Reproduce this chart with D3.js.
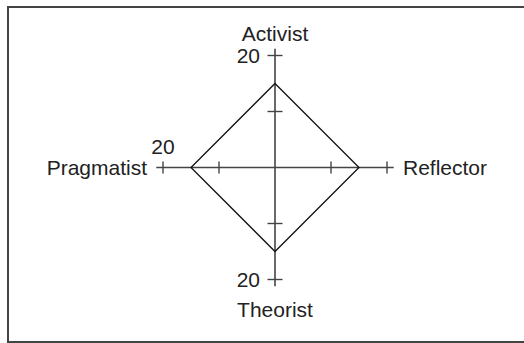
<!DOCTYPE html>
<html>
<head>
	<meta charset="utf-8">
	<script src="https://d3js.org/d3.v7.min.js"></script>
	<title>Learning styles</title>
	<style>
		body { margin: 0; background: #fff; }
		text { font-family: "Liberation Sans", Arial, sans-serif; font-size: 21px; fill: #222; }
	</style>
</head>
<body>
	<div id="chart"></div>

	<script type="text/javascript">
		// data (clockwise from the top)
		var axes = ["Activist", "Reflector", "Theorist", "Pragmatist"];
		var scores = [15, 15, 15, 15];
		var tickValues = [10, 20];
		var scaleLabel = "20";
		var labelledAxes = ["Activist", "Theorist", "Pragmatist"];
		var axisMax = 21.2;

		var width = 524, height = 343;
		var cx = 275, cy = 167.5;

		var svg = d3.select("#chart").append("svg")
			.attr("width", width)
			.attr("height", height);

		// frame
		svg.append("rect")
			.attr("x", 8).attr("y", 7)
			.attr("width", 540).attr("height", 335)
			.attr("fill", "none")
			.attr("stroke", "#444")
			.attr("stroke-width", 2);

		var r = d3.scaleLinear().domain([0, 20]).range([0, 112]);
		var step = 2 * Math.PI / axes.length;
		function ang(name) { return axes.indexOf(name) * step; }
		function px(a, v) { return Math.sin(a) * r(v); }
		function py(a, v) { return -Math.cos(a) * r(v); }
		function vertical(a) { return Math.abs(Math.sin(a)) < 0.5; }

		var g = svg.append("g").attr("transform", "translate(" + cx + "," + cy + ")");

		// axis lines
		g.selectAll(".axis")
			.data(axes).enter()
			.append("line")
			.attr("class", "axis")
			.attr("x1", 0).attr("y1", 0)
			.attr("x2", function(d) { return px(ang(d), axisMax); })
			.attr("y2", function(d) { return py(ang(d), axisMax); })
			.attr("stroke", "#444")
			.attr("stroke-width", 1.6);

		// ticks
		var tickData = [];
		axes.forEach(function(a) {
			tickValues.forEach(function(t) { tickData.push({ axis: a, value: t }); });
		});

		g.selectAll(".tick")
			.data(tickData).enter()
			.append("line")
			.attr("class", "tick")
			.attr("x1", function(d) { var a = ang(d.axis); return px(a, d.value) - (vertical(a) ? 7.5 : 0); })
			.attr("x2", function(d) { var a = ang(d.axis); return px(a, d.value) + (vertical(a) ? 7.5 : 0); })
			.attr("y1", function(d) { var a = ang(d.axis); return py(a, d.value) - (vertical(a) ? 0 : 6); })
			.attr("y2", function(d) { var a = ang(d.axis); return py(a, d.value) + (vertical(a) ? 0 : 6); })
			.attr("stroke", "#444")
			.attr("stroke-width", 1.4);

		// score polygon
		var radial = d3.lineRadial()
			.angle(function(d, i) { return i * step; })
			.radius(function(d) { return r(d); })
			.curve(d3.curveLinearClosed);

		g.append("path")
			.datum(scores)
			.attr("d", radial)
			.attr("fill", "none")
			.attr("stroke", "#111")
			.attr("stroke-width", 1.3);

		// "20" labels
		g.selectAll(".scale-label")
			.data(labelledAxes).enter()
			.append("text")
			.attr("class", "scale-label")
			.attr("x", function(d) { var a = ang(d); return vertical(a) ? -15 : px(a, 20); })
			.attr("y", function(d) { var a = ang(d); return vertical(a) ? py(a, 20) + 7.5 : -14; })
			.attr("text-anchor", function(d) { return vertical(ang(d)) ? "end" : "middle"; })
			.text(scaleLabel);

		// axis names
		g.selectAll(".axis-label")
			.data(axes).enter()
			.append("text")
			.attr("class", "axis-label")
			.attr("x", function(d) { return Math.sin(ang(d)) * 128; })
			.attr("y", function(d) {
				var c = -Math.cos(ang(d));
				if (c < -0.5) return -127;
				if (c > 0.5) return 149;
				return 7.5;
			})
			.attr("text-anchor", function(d) {
				var s = Math.sin(ang(d));
				return s > 0.5 ? "start" : (s < -0.5 ? "end" : "middle");
			})
			.text(function(d) { return d; });
	</script>
</body>
</html>
